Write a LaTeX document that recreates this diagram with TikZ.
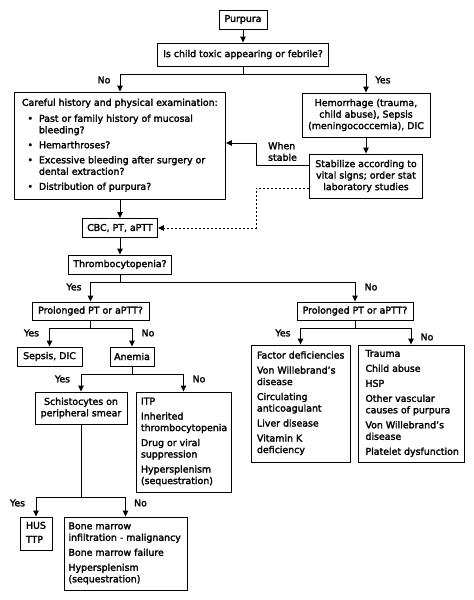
\documentclass[tikz,border=0pt]{standalone}
\usepackage{fontspec}
\setmainfont{DejaVu Sans}[BoldFont=DejaVu Sans, BoldFeatures={FakeBold=2.2}]
\usetikzlibrary{arrows.meta}
\newcommand{\lblock}[2]{\makebox[#1][l]{\begin{tabular}{@{}l@{}}#2\end{tabular}}}
\newcommand{\bul}{\hspace*{5.5pt}\makebox[11.5pt][l]{•}}
\newcommand{\cont}{\hspace*{17pt}}
\begin{document}
\begin{tikzpicture}[x=1pt,y=-1pt,
  every node/.style={font=\fontsize{9.4}{11.5}\selectfont\bfseries},
  box/.style={draw, line width=0.9pt, inner sep=0pt, align=center},
  arr/.style={line width=0.9pt, -{Triangle[length=6pt,width=5.5pt]}},
  ln/.style={line width=0.9pt},
  dsh/.style={line width=0.9pt, dash pattern=on 2.2pt off 1.8pt},
  lab/.style={inner sep=0pt}]
\useasboundingbox[fill=white] (0,0) rectangle (474,600);

% boxes
\node[box, minimum width=48pt, minimum height=19pt] (purpura) at (243,19.5) {Purpura};
\node[box, minimum width=171pt, minimum height=23pt] (toxic) at (243,54.5) {Is child toxic appearing or febrile?};
\node[box, minimum width=211pt, minimum height=107pt] (careful) at (120,145.5) {\lblock{196pt}{%
Careful history and physical examination:\\[4.5pt]
\bul Past or family history of mucosal\\
\cont bleeding?\\[3.5pt]
\bul Hemarthroses?\\[3.5pt]
\bul Excessive bleeding after surgery or\\
\cont dental extraction?\\[3.5pt]
\bul Distribution of purpura?}};
\node[box, minimum width=128pt, minimum height=44pt] (hemorrhage) at (366,115) {Hemorrhage (trauma,\\child abuse), Sepsis\\(meningococcemia), DIC};
\node[box, minimum width=113pt, minimum height=44pt] (stabilize) at (366,176) {Stabilize according to\\vital signs; order stat\\laboratory studies};
\node[box, minimum width=75pt, minimum height=19pt] (cbc) at (120,228) {CBC, PT, aPTT};
\node[box, minimum width=103pt, minimum height=19pt] (thrombo) at (120,264.5) {Thrombocytopenia?};
\node[box, minimum width=117pt, minimum height=18pt] (prolL) at (90.5,311) {Prolonged PT or aPTT?};
\node[box, minimum width=116pt, minimum height=18pt] (prolR) at (355,311) {Prolonged PT or aPTT?};
\node[box, minimum width=65pt, minimum height=19pt] (sepsis) at (49.5,356.5) {Sepsis, DIC};
\node[box, minimum width=44pt, minimum height=19pt] (anemia) at (132,356.5) {Anemia};
\node[box, minimum width=92pt, minimum height=32pt] (schisto) at (81,408) {Schistocytes on\\peripheral smear};
\node[box, minimum width=95pt, minimum height=100pt] (itp) at (183.5,442) {\lblock{85pt}{%
ITP\\[3.5pt]
Inherited\\
thrombocytopenia\\[3.5pt]
Drug or viral\\
suppression\\[3.5pt]
Hypersplenism\\
(sequestration)}};
\node[box, minimum width=99pt, minimum height=117pt] (factor) at (300.5,403.5) {\lblock{87pt}{%
Factor deficiencies\\[3.5pt]
Von Willebrand’s\\
disease\\[3.5pt]
Circulating\\
anticoagulant\\[3.5pt]
Liver disease\\[3.5pt]
Vitamin K\\
deficiency}};
\node[box, minimum width=106pt, minimum height=117pt] (trauma) at (411,403.5) {\lblock{91pt}{%
Trauma\\[3.5pt]
Child abuse\\[3.5pt]
HSP\\[3.5pt]
Other vascular\\
causes of purpura\\[3.5pt]
Von Willebrand’s\\
disease\\[3.5pt]
Platelet dysfunction}};
\node[box, minimum width=32pt, minimum height=33pt] (hus) at (36,533.5) {\lblock{20pt}{HUS\\[2.5pt]TTP}};
\node[box, minimum width=123pt, minimum height=73pt] (bone) at (125.5,553.5) {\lblock{114pt}{%
Bone marrow\\
infiltration - malignancy\\[3.5pt]
Bone marrow failure\\[3.5pt]
Hypersplenism\\
(sequestration)}};

% connectors
\draw[arr] (purpura) -- (toxic);
\draw[ln] (toxic.south) -- ++(0,8) coordinate (j1);
\draw[arr] (j1) -| (careful.north);
\draw[arr] (j1) -| (hemorrhage.north);
\draw[arr] (hemorrhage) -- (stabilize);
\draw[arr] ([yshift=11pt]stabilize.west) -- ++(-53,0) |- ([yshift=2.5pt]careful.east);
\draw[dsh] ([yshift=-12pt]stabilize.west) -- ++(-53,0) |- ([xshift=5pt]cbc.east);
\draw[arr] ([xshift=6pt]cbc.east) -- (cbc.east);
\draw[arr] (careful) -- (cbc);
\draw[arr] (cbc) -- (thrombo);
\draw[ln] (thrombo.south) -- ++(0,7.5) coordinate (j2);
\draw[arr] (j2) -| (prolL.north);
\draw[arr] (j2) -| (prolR.north);
\draw[ln] (prolL.south) -- ++(0,8) coordinate (j3);
\draw[arr] (j3) -| (sepsis.north);
\draw[arr] (j3) -| (anemia.north);
\draw[ln] (prolR.south) -- ++(0,8) coordinate (j4);
\draw[arr] (j4) -| (factor.north);
\draw[arr] (j4) -| (trauma.north);
\draw[ln] (anemia.south) -- ++(0,8) coordinate (j5);
\draw[arr] (j5) -| (schisto.north);
\draw[arr] (j5) -| (itp.north);
\draw[ln] (schisto.south) -- ++(0,73) coordinate (j6);
\draw[arr] (j6) -| (hus.north);
\draw[arr] (j6) -| (bone.north);

% labels
\node[lab] (l1) at (104,80) {No};
\node[lab] (l2) at (383,80) {Yes};
\node[lab, anchor=west, align=left] (l3) at (268,151.5) {When\\stable};
\node[lab] (l4) at (74,287) {Yes};
\node[lab] (l5) at (371,287) {No};
\node[lab] (l6) at (31.5,333) {Yes};
\node[lab] (l7) at (148,333) {No};
\node[lab] (l8) at (283,333) {Yes};
\node[lab] (l9) at (427,337) {No};
\node[lab] (l10) at (62.5,379) {Yes};
\node[lab] (l11) at (199,379) {No};
\node[lab] (l12) at (17.5,503) {Yes};
\node[lab] (l13) at (140.5,503) {No};
\end{tikzpicture}
\end{document}
